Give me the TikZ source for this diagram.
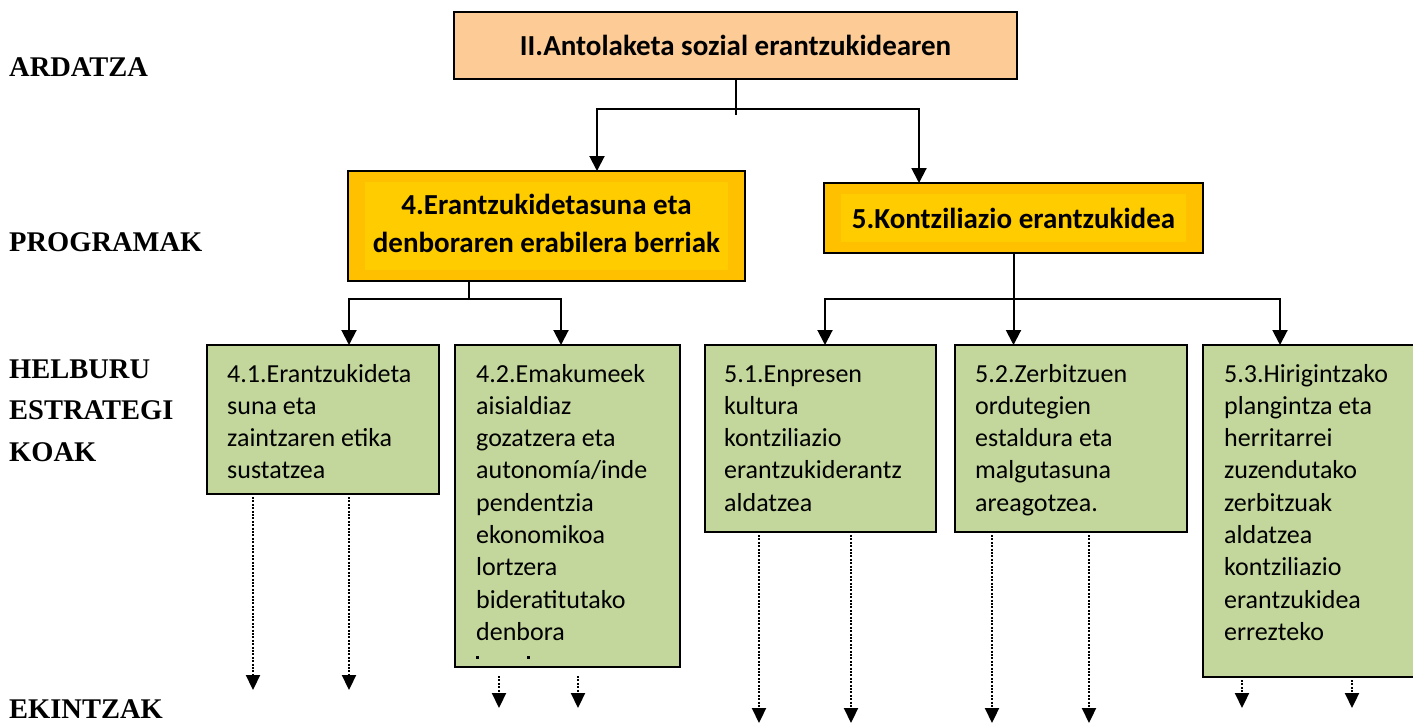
\documentclass[tikz,border=0pt]{standalone}
\usepackage{fontspec}
\setmainfont{Carlito}
\newfontfamily\labfont{Liberation Serif}
\usetikzlibrary{arrows.meta,calc}
\definecolor{peach}{HTML}{FCCB96}
\definecolor{goldout}{HTML}{FFC000}
\definecolor{goldin}{HTML}{FFCC00}
\definecolor{olivegreen}{HTML}{C3D69B}
\newcommand\gtxt[1]{\parbox[t]{215pt}{\fontsize{26}{32.3}\selectfont\raggedright #1}}
\newcommand\labtxt[1]{\parbox[t]{200pt}{\labfont\bfseries\fontsize{28.5}{41.5}\selectfont\raggedright #1}}
\begin{document}
\begin{tikzpicture}[x=1pt,y=-1pt,
  boxbase/.style={draw=black,line width=2.5pt,anchor=north west,inner sep=0pt,outer sep=0pt},
  topbox/.style={boxbase,fill=peach},
  progbox/.style={boxbase,fill=goldout,
    path picture={\fill[goldin] ([xshift=17pt,yshift=-11pt]path picture bounding box.north west) rectangle ([xshift=-17pt,yshift=11pt]path picture bounding box.south east);}},
  goal/.style={boxbase,fill=olivegreen},
  conn/.style={line width=2pt},
  arr/.style={conn,-{Triangle[length=15pt,width=15pt]}},
  dotarr/.style={line width=2.2pt,dash pattern=on 2pt off 1.4pt,-{Triangle[length=15pt,width=14pt]}},
  lab/.style={anchor=base west,inner sep=0pt},
  gtext/.style={anchor=base west,inner sep=0pt},
  ptext/.style={inner sep=0pt,align=center,font=\bfseries\fontsize{29}{38}\selectfont}
]
\useasboundingbox (0,0) rectangle (1413,725);
\fill[white] (0,0) rectangle (1413,725);

% labels
\node[lab] (lA) at (9,77) {\labtxt{ARDATZA}};
\node[lab] (lP) at (9,251) {\labtxt{PROGRAMAK}};
\node[lab] (lH) at (9,378) {\labtxt{HELBURU\\ESTRATEGI\\KOAK}};
\node[lab] (lE) at (9,718) {\labtxt{EKINTZAK}};

% top box
\node[topbox,minimum width=563pt,minimum height=67pt] (T) at (454,12) {};
\node[ptext] (Tt) at (T.center) {II.Antolaketa sozial erantzukidearen};

% program boxes
\node[progbox,minimum width=397pt,minimum height=110pt] (P4) at (348,171) {};
\node[ptext] (P4t) at ([yshift=3pt]P4.center) {4.Erantzukidetasuna eta\\denboraren erabilera berriak};
\node[progbox,minimum width=379pt,minimum height=70pt] (P5) at (824,183) {};
\node[ptext] (P5t) at (P5.center) {5.Kontziliazio erantzukidea};

% goal boxes
\node[goal,minimum width=232pt,minimum height=149pt] (G41) at (207,345) {};
\node[goal,minimum width=225pt,minimum height=322pt] (G42) at (455,345) {};
\node[goal,minimum width=231pt,minimum height=187pt] (G51) at (705,345) {};
\node[goal,minimum width=232pt,minimum height=187pt] (G52) at (955,345) {};
\node[goal,minimum width=240pt,minimum height=332pt] (G53) at (1203,345) {};

\node[gtext] (t41) at ([xshift=20pt,yshift=-37pt]G41.north west) {\gtxt{4.1.Erantzukideta\\suna eta\\zaintzaren etika\\sustatzea}};
\node[gtext] (t42) at ([xshift=21pt,yshift=-37pt]G42.north west) {\gtxt{4.2.Emakumeek\\aisialdiaz\\gozatzera eta\\autonomía/inde\\pendentzia\\ekonomikoa\\lortzera\\bideratitutako\\denbora}};
\fill (476,656) rectangle (479,658.5);
\fill (527,656) rectangle (530,658.5);
\node[gtext] (t51) at ([xshift=19pt,yshift=-37pt]G51.north west) {\gtxt{5.1.Enpresen\\kultura\\kontziliazio\\erantzukiderantz\\aldatzea}};
\node[gtext] (t52) at ([xshift=20pt,yshift=-37pt]G52.north west) {\gtxt{5.2.Zerbitzuen\\ordutegien\\estaldura eta\\malgutasuna\\areagotzea.}};
\node[gtext] (t53) at ([xshift=21pt,yshift=-37pt]G53.north west) {\gtxt{5.3.Hirigintzako\\plangintza eta\\herritarrei\\zuzendutako\\zerbitzuak\\aldatzea\\kontziliazio\\erantzukidea\\errezteko}};

% connectors top
\draw[conn] (T.south) -- ++(0,36);
\coordinate (j0) at ($(T.south)+(0,30)$);
\draw[arr] (j0) -| ([xshift=249pt]P4.north west);
\draw[arr] (j0) -| ([xshift=95pt]P5.north west);

% connectors program 4
\coordinate (j4) at ([xshift=121pt,yshift=-18pt]P4.south west);
\draw[conn] ([xshift=121pt]P4.south west) -- (j4);
\draw[arr] (j4) -| ([xshift=142pt]G41.north west);
\draw[arr] (j4) -| ([xshift=106pt]G42.north west);

% connectors program 5
\coordinate (j5) at ($(P5.south)+(0,46)$);
\draw[arr] (P5.south) -- (P5.south |- G52.north);
\draw[arr] (j5) -| ([xshift=120pt]G51.north west);
\draw[arr] (j5) -| ([xshift=77pt]G53.north west);

% dotted action arrows
\coordinate (a1) at (253,690);
\coordinate (a2) at (349,690);
\coordinate (a3) at (499,708);
\coordinate (a4) at (578,708);
\coordinate (a5) at (759,723);
\coordinate (a6) at (851,723);
\coordinate (a7) at (992,723);
\coordinate (a8) at (1089,723);
\coordinate (a9) at (1242,708);
\coordinate (a10) at (1352,708);
\draw[dotarr,shorten <=3pt] (G41.south -| a1) -- (a1);
\draw[dotarr,shorten <=3pt] (G41.south -| a2) -- (a2);
\draw[dotarr,shorten <=9pt] (G42.south -| a3) -- (a3);
\draw[dotarr,shorten <=9pt] (G42.south -| a4) -- (a4);
\draw[dotarr,shorten <=3pt] (G51.south -| a5) -- (a5);
\draw[dotarr,shorten <=3pt] (G51.south -| a6) -- (a6);
\draw[dotarr,shorten <=3pt] (G52.south -| a7) -- (a7);
\draw[dotarr,shorten <=3pt] (G52.south -| a8) -- (a8);
\draw[dotarr,shorten <=3pt] (G53.south -| a9) -- (a9);
\draw[dotarr,shorten <=3pt] (G53.south -| a10) -- (a10);
\end{tikzpicture}
\end{document}
